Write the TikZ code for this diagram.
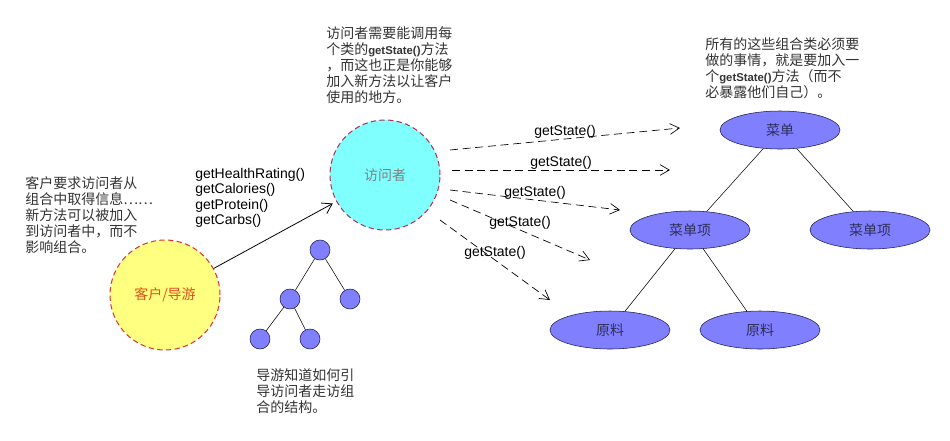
\documentclass[tikz,border=0pt]{standalone}
\usepackage{fontspec}
\setmainfont{Noto Sans CJK SC}
\newfontfamily\arial{Liberation Sans}
\usetikzlibrary{arrows.meta,shapes.geometric}

\definecolor{noteGray}{HTML}{333333}
\definecolor{guideYellow}{HTML}{FFFF80}
\definecolor{guideText}{HTML}{E0501A}
\definecolor{visitCyan}{HTML}{80FFFF}
\definecolor{compBlue}{HTML}{8080FF}
\definecolor{compLine}{HTML}{1A1A50}
\definecolor{dashRed}{HTML}{D83038}
\definecolor{dashPlum}{HTML}{A83058}
\newcommand{\gs}{{\arial\bfseries\fontsize{8.5}{12}\selectfont getState()}}

\tikzset{
    note/.style={anchor=north west, inner sep=0pt, align=left, text=noteGray,
        font=\fontsize{10.5}{12}\selectfont},
    role/.style={circle, minimum size=82.5pt, line width=0.75pt,
        dash pattern=on 4pt off 2.5pt, font=\fontsize{10.5}{12}\selectfont},
    comp/.style={ellipse, minimum width=90pt, minimum height=28.5pt, draw=compLine,
        fill=compBlue, text=compLine!80!gray, font=\fontsize{10.5}{12}\selectfont},
    knot/.style={circle, minimum size=15pt, inner sep=0pt, draw=compLine, fill=compBlue},
    call/.style={line width=0.5pt, dash pattern=on 6pt off 3.5pt,
        -{Straight Barb[length=7pt,width=8pt]}},
    method/.style={above, inner sep=0.5pt, text=black,
        font=\arial\fontsize{10.5}{11.5}\selectfont}
}

\begin{document}
\begin{tikzpicture}[x=0.75pt, y=-0.75pt]
    \useasboundingbox (0,0) rectangle (950,440);

    % notes
    \node[note] (askNote) at (25,176) {客户要求访问者从\\组合中取得信息……\\新方法可以被加入\\到访问者中，而不\\影响组合。};
    \node[note] (callNote) at (326,26) {访问者需要能调用每\\个类的\gs 方法\\，而这也正是你能够\\加入新方法以让客户\\使用的地方。};
    \node[note] (compNote) at (705,37) {所有的这些组合类必须要\\做的事情，就是要加入一\\个\gs 方法（而不\\必暴露他们自己）。};
    \node[note] (walkNote) at (256,368) {导游知道如何引\\导访问者走访组\\合的结构。};
    \node[anchor=north west, inner sep=0pt, align=left,
        font=\arial\fontsize{10.5}{11.5}\selectfont] (methods) at (195,168)
        {getHealthRating()\\getCalories()\\getProtein()\\getCarbs()};

    % client and visitor
    \node[role, draw=dashRed, fill=guideYellow, text=guideText] (client) at (165,295) {客户/导游};
    \node[role, draw=dashPlum, fill=visitCyan, text=gray] (visitor) at (385,175) {访问者};
    \draw[line width=0.6pt, -{Straight Barb[length=7pt,width=9pt]}, shorten >=3pt]
        (client) -- (visitor);

    % small tree
    \node[knot] (k1) at (320,250) {};
    \node[knot] (k2) at (290,299) {};
    \node[knot] (k3) at (350,299) {};
    \node[knot] (k4) at (260,339) {};
    \node[knot] (k5) at (310,339) {};
    \draw (k1) -- (k2);
    \draw (k1) -- (k3);
    \draw (k2) -- (k4);
    \draw (k2) -- (k5);

    % getState() calls
    \coordinate (s1) at (450,150); \coordinate (e1) at (680,128);
    \coordinate (s2) at (452,170); \coordinate (e2) at (670,170);
    \coordinate (s3) at (450,190); \coordinate (e3) at (620,210);
    \coordinate (s4) at (450,200); \coordinate (e4) at (590,260);
    \coordinate (s5) at (440,220); \coordinate (e5) at (550,300);
    \draw[call] (s1) -- node[method]{getState()} (e1);
    \draw[call] (s2) -- node[method]{getState()} (e2);
    \draw[call] (s3) -- node[method]{getState()} (e3);
    \draw[call] (s4) -- node[method]{getState()} (e4);
    \draw[call] (s5) -- node[method]{getState()} (e5);

    % composite
    \node[comp] (menu) at (780,130) {菜单};
    \node[comp] (item1) at (690,230) {菜单项};
    \node[comp] (item2) at (870,230) {菜单项};
    \node[comp] (raw1) at (610,330) {原料};
    \node[comp] (raw2) at (760,330) {原料};
    \draw (menu) -- (item1);
    \draw (menu) -- (item2);
    \draw (item1) -- (raw1);
    \draw (item1) -- (raw2);
\end{tikzpicture}
\end{document}
